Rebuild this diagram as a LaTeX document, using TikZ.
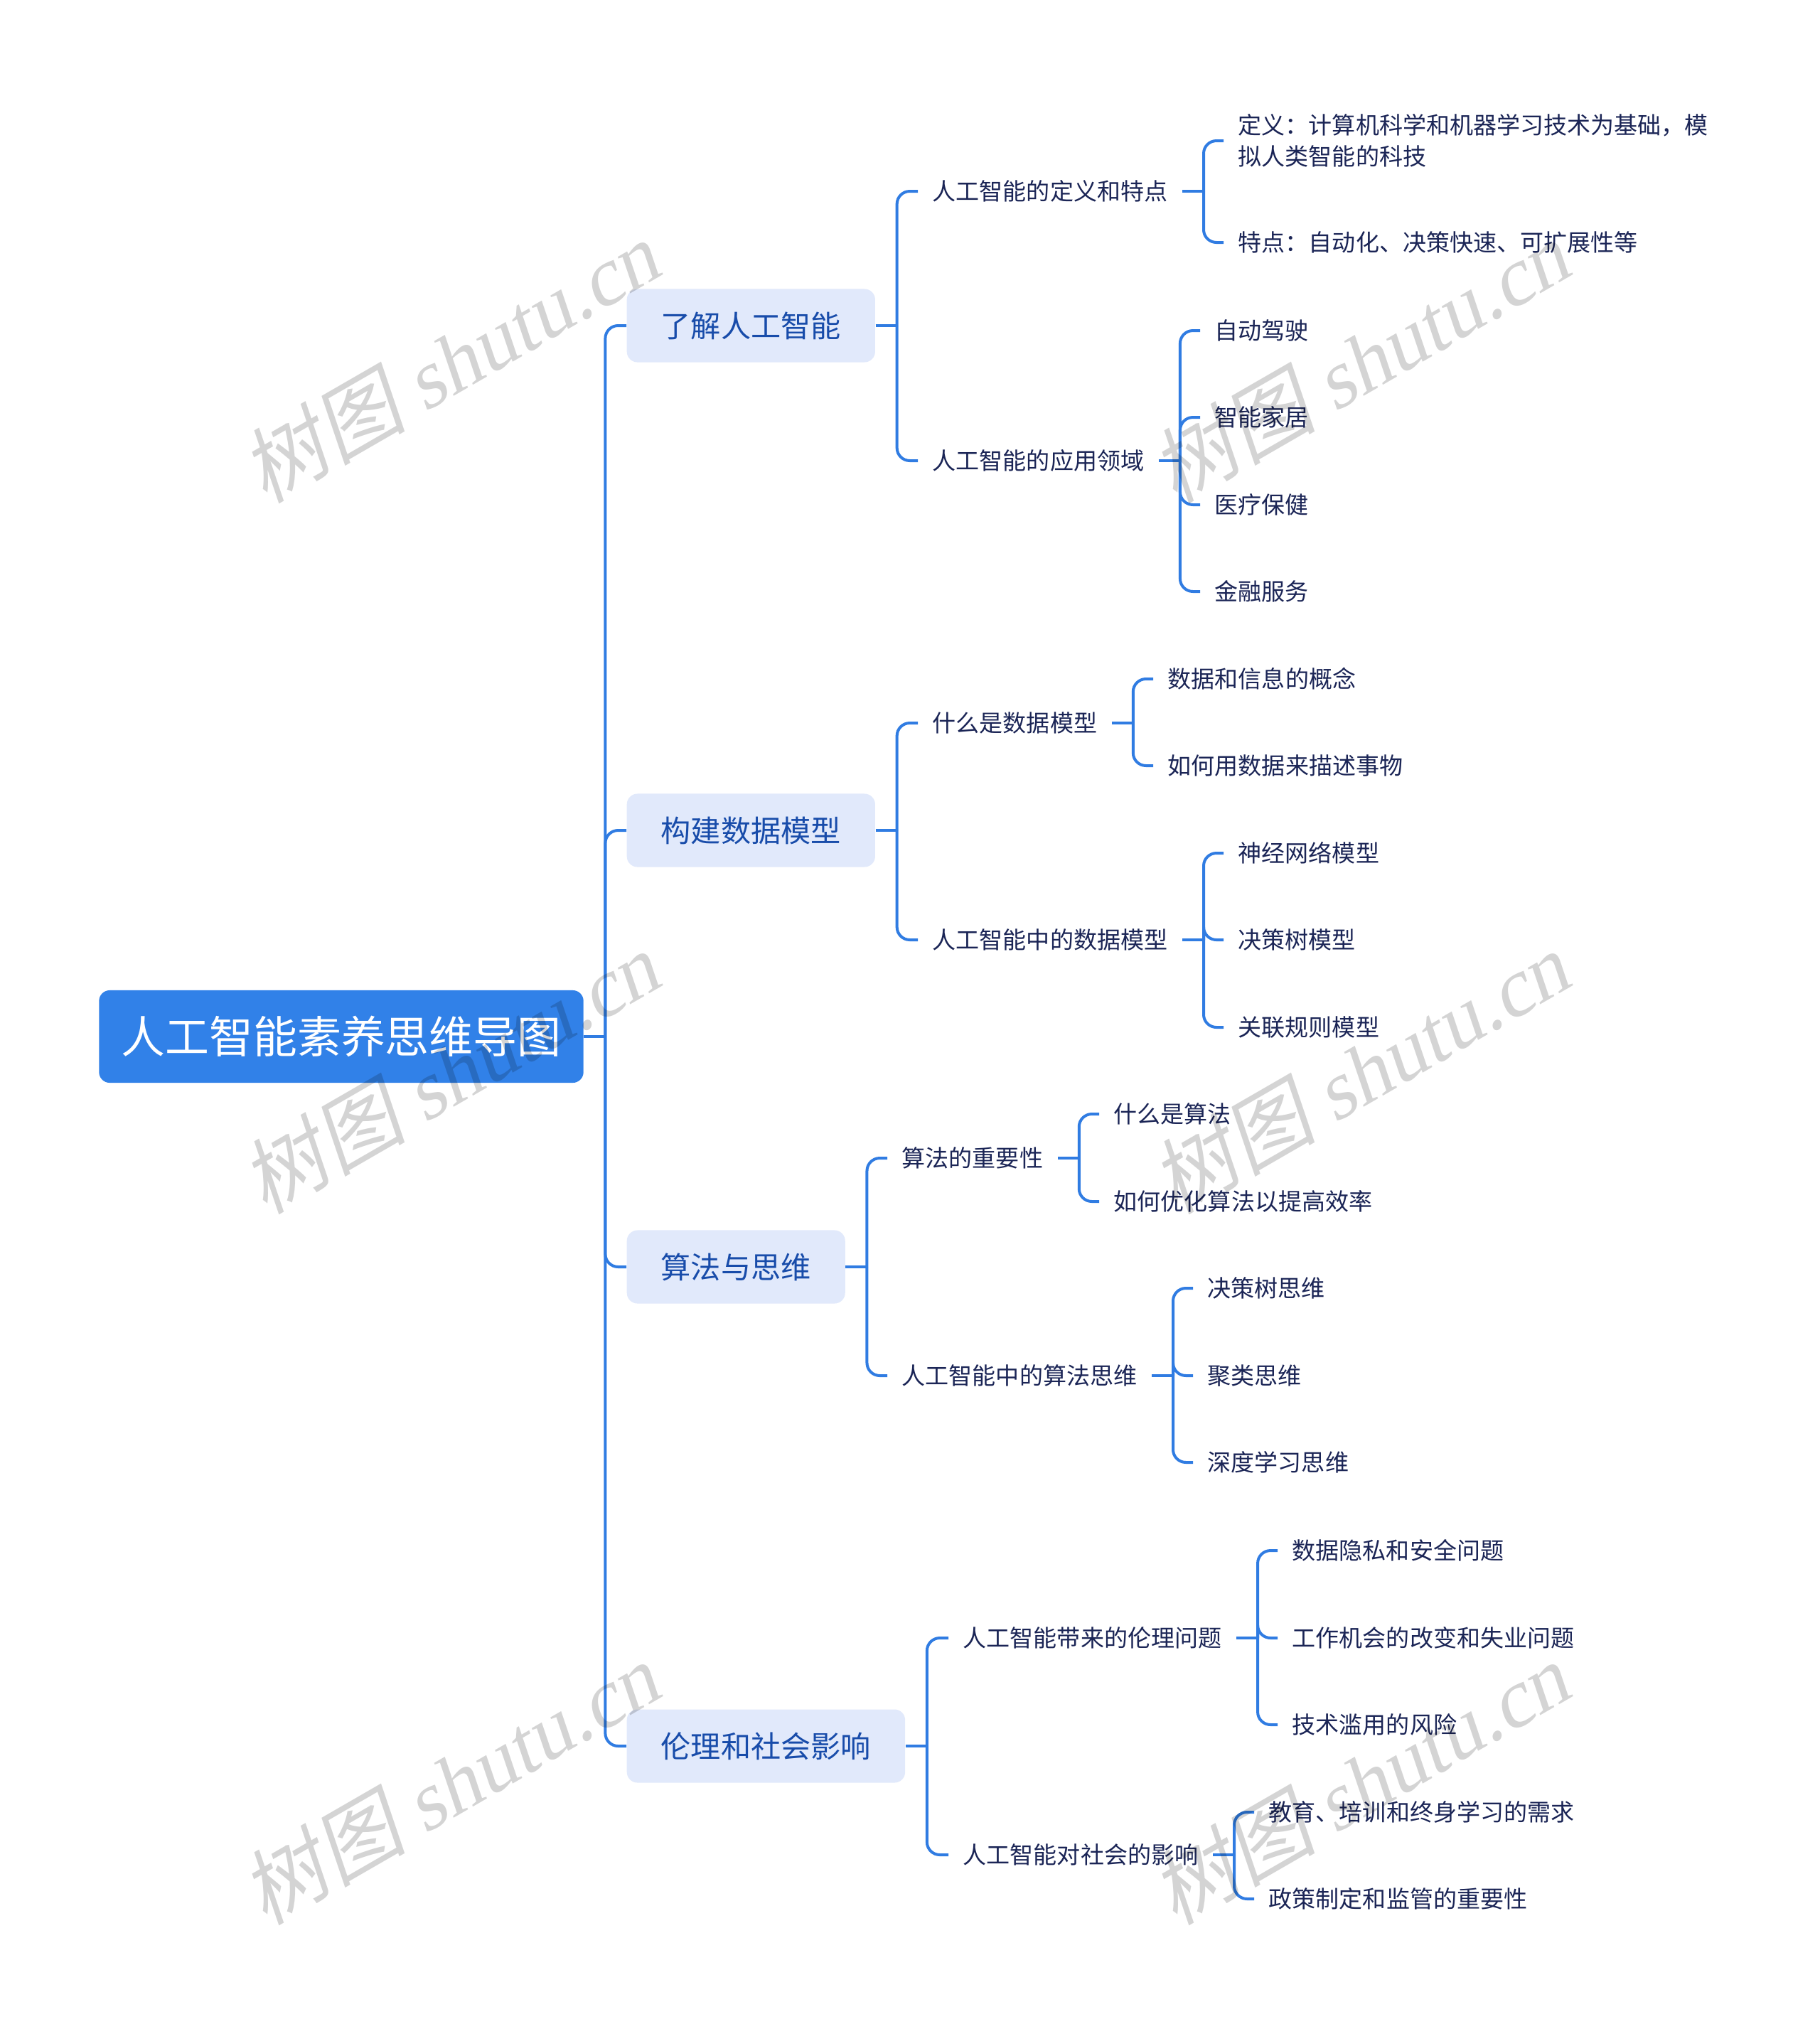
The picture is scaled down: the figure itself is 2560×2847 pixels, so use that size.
\documentclass[tikz,border=0pt]{standalone}
\usepackage{fontspec}
\setmainfont{Noto Sans CJK SC}
\newfontfamily\wmfont{Liberation Serif}
\usepackage{tikz}

\definecolor{linkblue}{RGB}{48,124,226}
\definecolor{rootblue}{RGB}{49,129,232}
\definecolor{topicfill}{RGB}{225,233,251}
\definecolor{topictext}{RGB}{24,76,170}
\definecolor{leafnavy}{RGB}{27,37,86}

\tikzset{
  link/.style={draw=linkblue, line width=0.04cm, rounded corners=0.18cm},
  rootbox/.style={fill=rootblue, rounded corners=0.15cm, text=white,
    minimum width=6.81cm, minimum height=1.30cm, inner sep=0pt,
    font=\fontsize{17.6}{20}\selectfont},
  topic/.style={anchor=west, fill=topicfill, rounded corners=0.15cm, text=topictext,
    minimum height=1.03cm, inner xsep=0.48cm, inner ysep=0pt,
    font=\fontsize{12}{14}\selectfont},
  leaf/.style={anchor=west, inner xsep=0.2cm, inner ysep=0.03cm, text=leafnavy,
    align=left, font=\fontsize{9.4}{12.4}\selectfont},
  watermark/.style={rotate=30, xslant=0.2, inner sep=0pt, text=black,
    text opacity=0.17, font=\fontsize{33}{33}\selectfont}
}

\begin{document}
\begin{tikzpicture}[x=0.01cm, y=-0.01cm]
  \fill[white] (0,0) rectangle (2560,2847);
  \useasboundingbox (0,0) rectangle (2560,2847);

  % centre
  \node[rootbox] (root) at (480,1458) {人工智能素养思维导图};

  % main branches
  \node[topic] (t1) at (881,458) {了解人工智能};
  \node[topic] (t2) at (881,1168) {构建数据模型};
  \node[topic] (t3) at (881,1782) {算法与思维};
  \node[topic] (t4) at (881,2456) {伦理和社会影响};

  % second level
  \node[leaf] (a) at (1291,269) {人工智能的定义和特点};
  \node[leaf] (b) at (1291,648) {人工智能的应用领域};
  \node[leaf] (c) at (1291,1017) {什么是数据模型};
  \node[leaf] (d) at (1291,1322) {人工智能中的数据模型};
  \node[leaf] (e) at (1248,1629) {算法的重要性};
  \node[leaf] (f) at (1248,1935) {人工智能中的算法思维};
  \node[leaf] (g) at (1334,2304) {人工智能带来的伦理问题};
  \node[leaf] (h) at (1334,2609) {人工智能对社会的影响};

  % leaves
  \node[leaf] (a1) at (1721,198) {定义：计算机科学和机器学习技术为基础，模\\拟人类智能的科技};
  \node[leaf] (a2) at (1721,341) {特点：自动化、决策快速、可扩展性等};
  \node[leaf] (b1) at (1688,465) {自动驾驶};
  \node[leaf] (b2) at (1688,587) {智能家居};
  \node[leaf] (b3) at (1688,710) {医疗保健};
  \node[leaf] (b4) at (1688,832) {金融服务};
  \node[leaf] (c1) at (1622,955) {数据和信息的概念};
  \node[leaf] (c2) at (1622,1077) {如何用数据来描述事物};
  \node[leaf] (d1) at (1721,1200) {神经网络模型};
  \node[leaf] (d2) at (1721,1322) {决策树模型};
  \node[leaf] (d3) at (1721,1445) {关联规则模型};
  \node[leaf] (e1) at (1546,1567) {什么是算法};
  \node[leaf] (e2) at (1546,1690) {如何优化算法以提高效率};
  \node[leaf] (f1) at (1678,1812) {决策树思维};
  \node[leaf] (f2) at (1678,1935) {聚类思维};
  \node[leaf] (f3) at (1678,2057) {深度学习思维};
  \node[leaf] (g1) at (1797,2181) {数据隐私和安全问题};
  \node[leaf] (g2) at (1797,2304) {工作机会的改变和失业问题};
  \node[leaf] (g3) at (1797,2426) {技术滥用的风险};
  \node[leaf] (h1) at (1764,2549) {教育、培训和终身学习的需求};
  \node[leaf] (h2) at (1764,2671) {政策制定和监管的重要性};

  % brackets
  \draw[link] (root.east) -- ++(30,0) coordinate (jroot);
  \foreach \t in {t1,t2,t3,t4}
    \draw[link] (jroot) |- (\t.west);
  \foreach \p/\kids in {t1/{a,b}, t2/{c,d}, t3/{e,f}, t4/{g,h},
      a/{a1,a2}, b/{b1,b2,b3,b4}, c/{c1,c2}, d/{d1,d2,d3},
      e/{e1,e2}, f/{f1,f2,f3}, g/{g1,g2,g3}, h/{h1,h2}} {
    \draw[link] (\p.east) -- ++(30,0) coordinate (j\p);
    \foreach \k in \kids
      \draw[link] (j\p) |- (\k.west);
  }

  % watermarks
  \node[watermark] (w1) at (640,505) {树图 {\wmfont shutu.cn}};
  \node[watermark] (w2) at (640,1505) {树图 {\wmfont shutu.cn}};
  \node[watermark] (w3) at (640,2505) {树图 {\wmfont shutu.cn}};
  \node[watermark] (w4) at (1920,505) {树图 {\wmfont shutu.cn}};
  \node[watermark] (w5) at (1920,1505) {树图 {\wmfont shutu.cn}};
  \node[watermark] (w6) at (1920,2505) {树图 {\wmfont shutu.cn}};
\end{tikzpicture}
\end{document}
